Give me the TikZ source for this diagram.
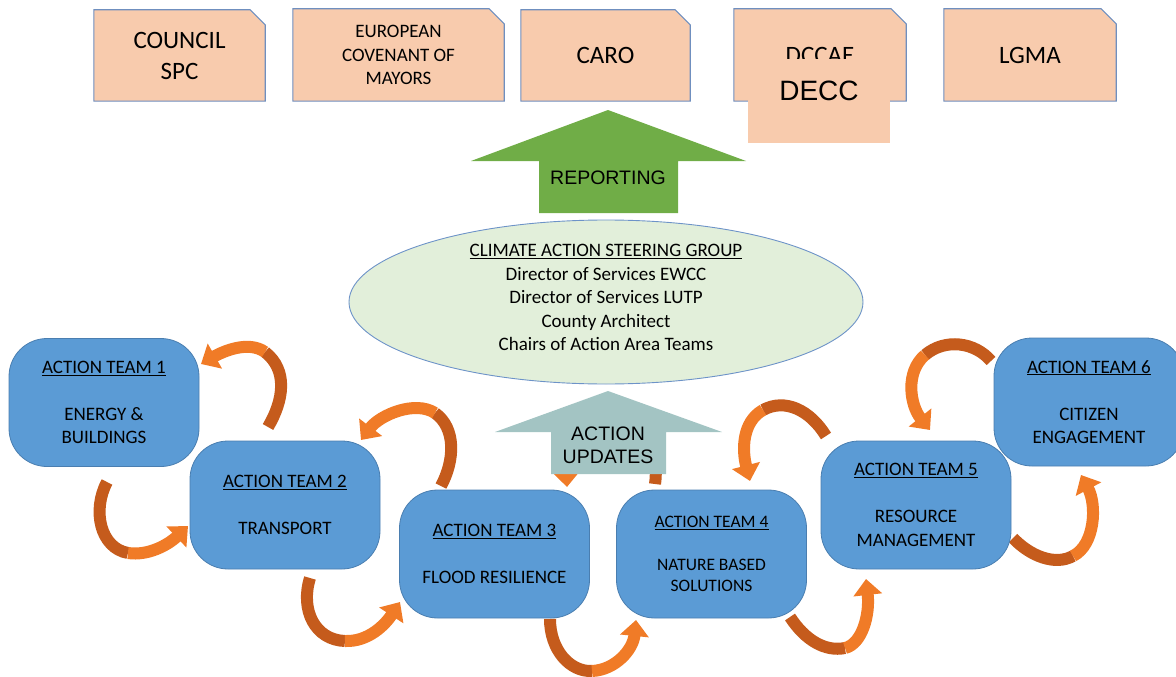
\documentclass[tikz,border=0pt]{standalone}
\usepackage{fontspec}
\setmainfont{Carlito}
\newfontfamily\arialf{Liberation Sans}
\usetikzlibrary{arrows.meta,shapes.geometric,backgrounds}
\definecolor{peach}{HTML}{F8CBAD}
\definecolor{boxline}{HTML}{6F8FBF}
\definecolor{teamblue}{HTML}{5B9BD5}
\definecolor{teamline}{HTML}{4A7EB0}
\definecolor{repgreen}{HTML}{70AD47}
\definecolor{updgray}{HTML}{A3C4C3}
\definecolor{ellfill}{HTML}{E2EFDA}
\definecolor{ellline}{HTML}{6D93C8}
\definecolor{orlight}{HTML}{F07B27}
\definecolor{ordark}{HTML}{C55B1C}
\begin{document}
\begin{tikzpicture}[x=1pt,y=-1pt,
  topbox/.style={inner sep=0pt, minimum height=91pt, align=center,
    font=\fontsize{25}{31}\selectfont},
  topshape/.style={fill=peach, draw=boxline, line width=1.1pt},
  team/.style={rounded corners=38pt, fill=teamblue, draw=teamline, line width=0.8pt,
    minimum width=190pt, minimum height=128pt, inner sep=0pt, align=center,
    font=\fontsize{19}{23.5}\selectfont},
  arrowtxt/.style={font=\arialf\fontsize{19.5}{23}\selectfont, align=center, inner sep=0pt},
  bandback/.style={draw=ordark, line width=12pt, line cap=butt},
  bandfront/.style={draw=orlight, line width=12pt, line cap=butt,
    -{Triangle[length=16pt,width=28pt]}}
]
\useasboundingbox (0,0) rectangle (1176,677);

% ---------- top boxes ----------
\node[topbox, minimum width=171pt] (council) at (179.5,55.5) {COUNCIL\\SPC};
\node[topbox, minimum width=211pt, minimum height=92pt,
      font=\fontsize{19}{23.5}\selectfont] (com) at (398.5,55) {EUROPEAN\\COVENANT OF\\MAYORS};
\node[topbox, minimum width=169pt] (caro) at (605.5,55.5) {CARO};
\node[topbox, minimum width=172pt, minimum height=92pt] (dccae) at (820,55) {DCCAE};
\node[topbox, minimum width=172pt, minimum height=92pt] (lgma) at (1030,55) {LGMA};
\begin{scope}[on background layer]
  \foreach \n in {council,com,caro,dccae,lgma}{
    \path[topshape] (\n.south west) -- (\n.north west) -- ([xshift=-15pt]\n.north east)
      -- ([yshift=-15pt]\n.north east) -- (\n.south east) -- cycle;
  }
\end{scope}
\node[fill=peach, inner sep=0pt, minimum width=142pt, text height=41pt, text depth=43pt,
      align=center, font=\arialf\fontsize{28}{32}\selectfont] (decc) at (819,101) {DECC};

% ---------- reporting arrow ----------
\fill[repgreen] (608,110) -- (746,161) -- (678,161) -- (678,213) -- (539,213) -- (539,161) -- (471,161) -- cycle;
\node[arrowtxt] (rep) at (608,178) {REPORTING};

% ---------- arrow hidden behind the updates arrow ----------
\draw[bandback] (655,484) .. controls (660,450) and (640,420) .. (610,418);
\draw[bandfront] (610,418) .. controls (580,416) and (565,450) .. (567,487);

% ---------- action updates arrow ----------
\fill[updgray] (608,391) -- (722,432) -- (666,432) -- (666,474) -- (551,474) -- (551,432) -- (495,432) -- cycle;
\node[arrowtxt] (upd) at (608,445) {ACTION\\UPDATES};

% ---------- steering group ----------
\node[ellipse, fill=ellfill, draw=ellline, line width=0.9pt, minimum width=514pt,
      minimum height=164pt, inner sep=0pt] (csg) at (606,302) {};
\node[align=center, inner sep=0pt, font=\fontsize{19}{23.5}\selectfont]
  (csgtxt) at ([yshift=4.5pt]csg.center)
  {\underline{CLIMATE ACTION STEERING GROUP}\\Director of Services EWCC\\Director of Services LUTP\\County Architect\\Chairs of Action Area Teams};

% ---------- action teams ----------
\node[team] (t1) at (104,402.5) {\underline{ACTION TEAM 1}\\[23.5pt]ENERGY \&\\BUILDINGS};
\node[team] (t2) at (285,505) {\underline{ACTION TEAM 2}\\[23.5pt]TRANSPORT};
\node[team] (t3) at (494.5,554) {\underline{ACTION TEAM 3}\\[23.5pt]FLOOD RESILIENCE};
\node[team, font=\fontsize{17.5}{21.5}\selectfont] (t4) at (711.5,554) {\underline{ACTION TEAM 4}\\[21.5pt]NATURE BASED\\SOLUTIONS};
\node[team] (t5) at (916,505) {\underline{ACTION TEAM 5}\\[23.5pt]RESOURCE\\MANAGEMENT};
\node[team] (t6) at (1089,402) {\underline{ACTION TEAM 6}\\[23.5pt]CITIZEN\\ENGAGEMENT};

% ---------- curved arrows between teams ----------
\begin{scope}[on background layer]
  % t2 -> t1 (over)
  \draw[bandback] (268,427) .. controls (284,400) and (288,370) .. (265,352);
  \draw[bandfront] (265,352) .. controls (248,340) and (222,352) .. (201,364);
  % t1 -> t2 (under)
  \draw[bandback] (107,482) .. controls (92,510) and (100,548) .. (128,553);
  \draw[bandfront] (128,553) .. controls (148,556) and (168,545) .. (188,526);
  % t3 -> t2 (over)
  \draw[bandback] (441,486) .. controls (455,460) and (456,428) .. (435,413);
  \draw[bandfront] (435,413) .. controls (415,400) and (380,415) .. (361,440);
  % t2 -> t3 (under)
  \draw[bandback] (310,578) .. controls (300,610) and (315,640) .. (345,641);
  \draw[bandfront] (345,641) .. controls (368,642) and (385,625) .. (400,602);
  % t3 -> t4 (under)
  \draw[bandback] (550,619) .. controls (550,650) and (570,672) .. (592,671);
  \draw[bandfront] (592,671) .. controls (615,670) and (633,650) .. (636,620);
  % t5 -> t4 (over)
  \draw[bandback] (826,436) .. controls (810,410) and (785,398) .. (763,410);
  \draw[bandfront] (763,410) .. controls (742,422) and (742,450) .. (750,481);
  % t4 -> t5 (under)
  \draw[bandback] (790,617) .. controls (805,640) and (825,652) .. (845,648);
  \draw[bandfront] (845,648) .. controls (862,644) and (870,615) .. (866,579);
  % t6 -> t5 (over)
  \draw[bandback] (991,361) .. controls (975,342) and (945,338) .. (925,355);
  \draw[bandfront] (925,355) .. controls (905,372) and (910,405) .. (930,430);
  % t5 -> t6 (under)
  \draw[bandback] (1013,538) .. controls (1030,556) and (1055,566) .. (1073,556);
  \draw[bandfront] (1073,556) .. controls (1095,545) and (1097,505) .. (1081,475);
\end{scope}
\end{tikzpicture}
\end{document}
